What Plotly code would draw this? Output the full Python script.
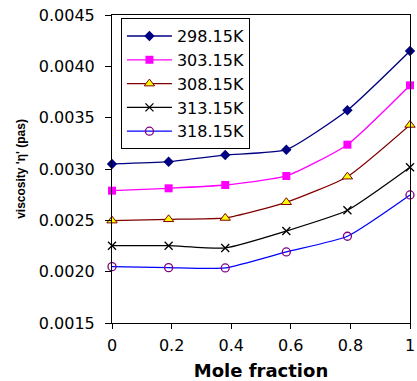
import plotly.graph_objects as go

mole_fraction = [0, 0.19, 0.38, 0.585, 0.79, 1.0]
series_names = ["298.15K", "303.15K", "308.15K", "313.15K", "318.15K"]
v_298 = [0.003049, 0.003071, 0.003136, 0.003188, 0.003572, 0.004149]
v_303 = [0.002789, 0.002812, 0.002844, 0.002932, 0.003237, 0.003815]
v_308 = [0.002497, 0.002510, 0.002523, 0.002676, 0.002925, 0.003429]
v_313 = [0.002253, 0.002253, 0.002231, 0.002396, 0.002598, 0.003017]
v_318 = [0.002049, 0.002039, 0.002036, 0.002192, 0.002345, 0.002747]

styles = [
    dict(line="#000080", marker=dict(symbol="diamond", size=8, color="#000080")),
    dict(line="#FF00FF", marker=dict(symbol="square", size=8, color="#FF00FF")),
    dict(line="#800000", marker=dict(symbol="triangle-up", size=9, color="#FFFF00",
                                     line=dict(color="#800000", width=1))),
    dict(line="#000000", marker=dict(symbol="x-thin", size=8,
                                     line=dict(color="#000000", width=1.3))),
    dict(line="#0000FF", marker=dict(symbol="circle-open", size=8, color="#800080",
                                     line=dict(color="#800080", width=1.3))),
]

fig = go.Figure()
for name, vals, st in zip(series_names, [v_298, v_303, v_308, v_313, v_318], styles):
    fig.add_trace(go.Scatter(
        x=mole_fraction, y=vals, name=name, mode="lines+markers",
        line=dict(color=st["line"], width=1.3, shape="spline", smoothing=0.5),
        marker=st["marker"], cliponaxis=False,
    ))

fig.update_layout(
    width=417, height=381,
    margin=dict(l=112, r=2, t=15, b=58),
    paper_bgcolor="white", plot_bgcolor="white",
    font=dict(family="DejaVu Sans", color="black", size=16),
    showlegend=True,
    legend=dict(
        x=0.03, y=0.99, xanchor="left", yanchor="top",
        bgcolor="white", bordercolor="black", borderwidth=1,
        font=dict(family="DejaVu Sans", size=16, color="black"),
        tracegroupgap=0, itemwidth=45,
    ),
    xaxis=dict(
        range=[0, 1], dtick=0.2, tick0=0, showgrid=False, zeroline=False,
        showline=True, linecolor="black", linewidth=1, mirror=True,
        ticks="outside", ticklen=5, tickcolor="black", ticklabelstandoff=3,
        ticklabeloverflow="allow",
        tickfont=dict(family="DejaVu Sans", size=16),
        title=dict(text="<b>Mole fraction</b>", standoff=10,
                   font=dict(family="DejaVu Sans", size=18)),
    ),
    yaxis=dict(
        range=[0.0015, 0.0045], dtick=0.0005, tick0=0.0015, tickformat=".4f",
        showgrid=False, zeroline=False,
        showline=True, linecolor="black", linewidth=1, mirror=True,
        ticks="outside", ticklen=6, tickcolor="black", ticklabelstandoff=7,
        tickfont=dict(family="DejaVu Sans", size=16),
        title=dict(text="<b>viscosity 'η' (pas)</b>", standoff=10,
                   font=dict(family="Liberation Sans", size=12)),
    ),
)

fig.write_html("out.html", config={"displayModeBar": False},
               post_script="document.body.style.margin='0';")
